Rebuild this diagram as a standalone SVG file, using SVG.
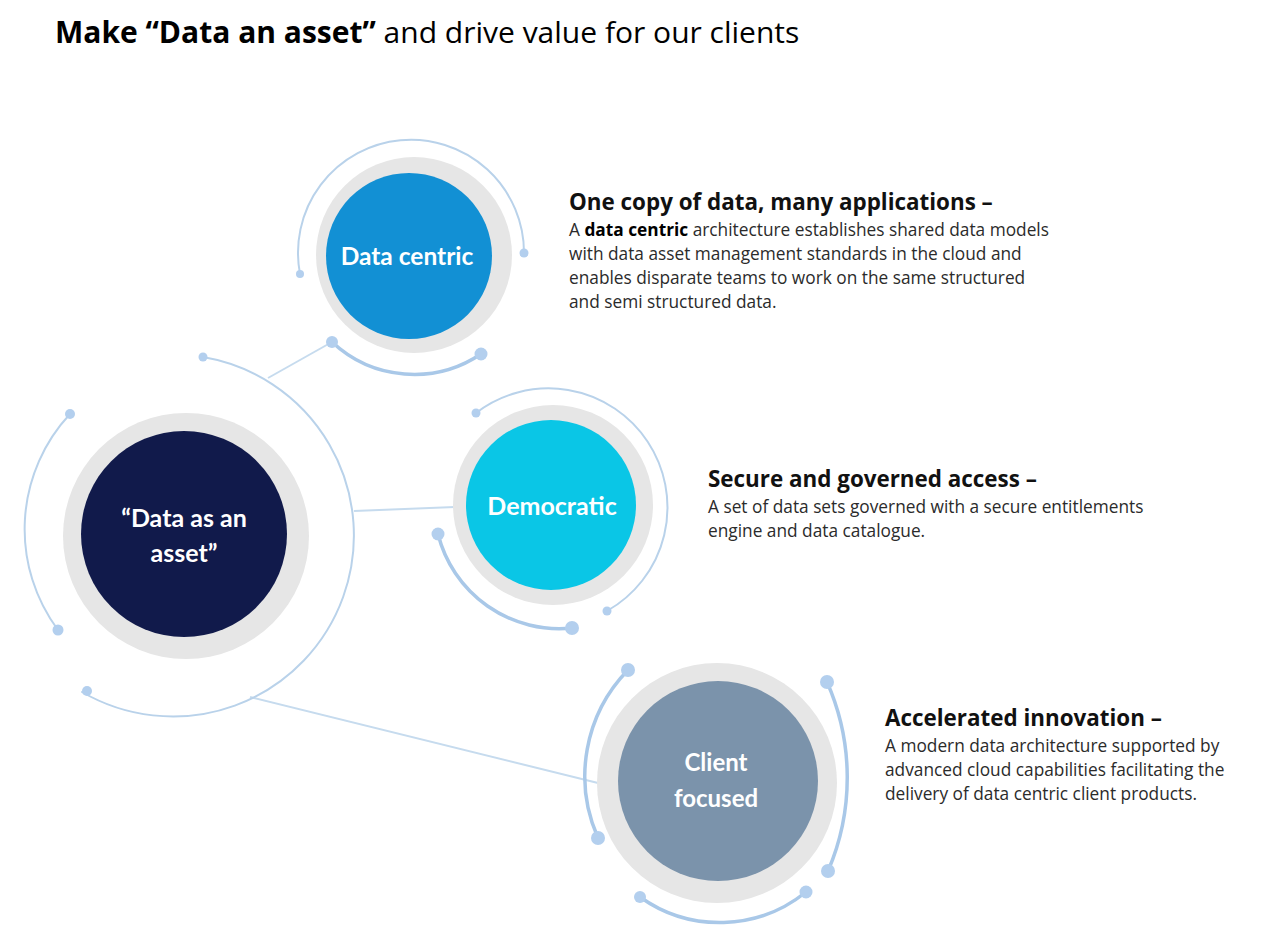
<svg xmlns="http://www.w3.org/2000/svg" width="1280" height="941" viewBox="0 0 1280 941">
<style>
.ring{fill:#e6e6e6}
.arc{fill:none;stroke:#b9d2ea;stroke-width:2;stroke-linecap:round}
.arc2{fill:none;stroke:#a9c8e8;stroke-width:3.5;stroke-linecap:round}
.dot{fill:#b3cfee}
.conn{stroke:#c6dbee;stroke-width:2;fill:none}
.lbl{font-family:Lato,"Open Sans",sans-serif;font-weight:700;fill:#ffffff;text-anchor:middle}
.title{font-family:"Open Sans","Liberation Sans",sans-serif;font-size:30px;fill:#000}
.head{font-family:"Open Sans","Liberation Sans",sans-serif;font-size:22.4px;font-weight:700;fill:#111}
.body{font-family:"Open Sans","Liberation Sans",sans-serif;font-size:17.3px;fill:#2b2b2b}
</style>
<rect width="1280" height="941" fill="#ffffff"/>
<text class="title" x="55" y="43"><tspan font-weight="700">Make “Data an asset”</tspan> and drive value for our clients</text>

<g id="connectors">
<line class="conn" x1="268" y1="378" x2="332" y2="342"/>
<line class="conn" x1="354" y1="511" x2="455" y2="507"/>
<line class="conn" x1="250" y1="697" x2="598" y2="783"/>
</g>

<g id="node-data-asset">
<path class="arc" d="M203,357 A181 181 0 1 1 82,692"/>
<path class="arc" d="M70,414 A169 169 0 0 0 58,630"/>
<circle class="dot" cx="203" cy="357" r="4.5"/>
<circle class="dot" cx="70" cy="414" r="5"/>
<circle class="dot" cx="58" cy="630" r="5.5"/>
<circle class="dot" cx="87" cy="691" r="5"/>
<circle class="ring" cx="186" cy="536" r="123"/>
<circle cx="184" cy="534" r="103" fill="#111a4b"/>
<text class="lbl" x="184" y="527" font-size="25">“Data as an</text>
<text class="lbl" x="184" y="562" font-size="25">asset”</text>
</g>

<g id="node-data-centric">
<path class="arc" d="M300,274 A113 113 0 1 1 524,253"/>
<path class="arc2" d="M332,342 A120 120 0 0 0 481,354"/>
<circle class="dot" cx="300" cy="274" r="4"/>
<circle class="dot" cx="524" cy="253" r="4.5"/>
<circle class="dot" cx="332" cy="342" r="6"/>
<circle class="dot" cx="481" cy="354" r="6.5"/>
<circle class="ring" cx="414" cy="255" r="98"/>
<circle cx="409" cy="256" r="83" fill="#1290d4"/>
<text class="lbl" x="407" y="265" font-size="24.5">Data centric</text>
</g>

<g id="node-democratic">
<path class="arc" d="M476,413 A119 119 0 1 1 607,611"/>
<path class="arc2" d="M438,534 A125 125 0 0 0 572,628"/>
<circle class="dot" cx="476" cy="413" r="4.5"/>
<circle class="dot" cx="607" cy="611" r="4.5"/>
<circle class="dot" cx="438" cy="534" r="6.5"/>
<circle class="dot" cx="572" cy="628" r="7"/>
<circle class="ring" cx="553" cy="505" r="100"/>
<circle cx="551" cy="505" r="85" fill="#0ac6e6"/>
<text class="lbl" x="552" y="515" font-size="25">Democratic</text>
</g>

<g id="node-client-focused">
<path class="arc2" d="M628,670 A152 152 0 0 0 598,838"/>
<path class="arc2" d="M827,682 A236 236 0 0 1 828,871"/>
<path class="arc2" d="M640,897 A137 137 0 0 0 806,892"/>
<circle class="dot" cx="628" cy="670" r="7"/>
<circle class="dot" cx="598" cy="838" r="7"/>
<circle class="dot" cx="827" cy="682" r="7"/>
<circle class="dot" cx="828" cy="871" r="7"/>
<circle class="dot" cx="640" cy="897" r="6"/>
<circle class="dot" cx="806" cy="892" r="6.5"/>
<circle class="ring" cx="717" cy="783" r="120"/>
<circle cx="718" cy="781" r="100" fill="#7b93ab"/>
<text class="lbl" x="716" y="771" font-size="24">Client</text>
<text class="lbl" x="716" y="807" font-size="24">focused</text>
</g>

<g id="text-data-centric">
<text class="head" x="569" y="210">One copy of data, many applications –</text>
<text class="body" x="569" y="236">A <tspan font-weight="700" fill="#000">data centric</tspan> architecture establishes shared data models</text>
<text class="body" x="569" y="260">with data asset management standards in the cloud and</text>
<text class="body" x="569" y="284">enables disparate teams to work on the same structured</text>
<text class="body" x="569" y="308">and semi structured data.</text>
</g>

<g id="text-democratic">
<text class="head" x="708" y="487">Secure and governed access –</text>
<text class="body" x="708" y="513">A set of data sets governed with a secure entitlements</text>
<text class="body" x="708" y="537">engine and data catalogue.</text>
</g>

<g id="text-client-focused">
<text class="head" x="885" y="726">Accelerated innovation –</text>
<text class="body" x="885" y="752">A modern data architecture supported by</text>
<text class="body" x="885" y="776">advanced cloud capabilities facilitating the</text>
<text class="body" x="885" y="800">delivery of data centric client products.</text>
</g>
</svg>
